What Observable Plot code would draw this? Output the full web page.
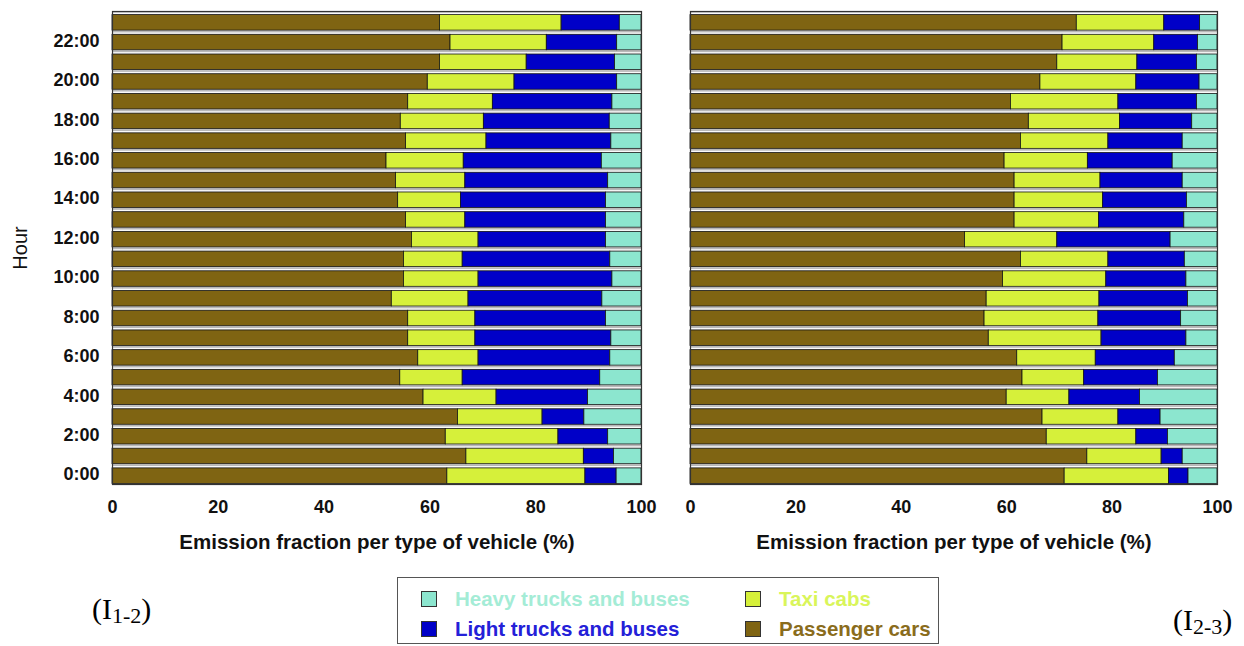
<!DOCTYPE html>
<html>
<head>
<meta charset="utf-8">
<script src="https://cdn.jsdelivr.net/npm/d3@7"></script>
<script src="https://cdn.jsdelivr.net/npm/@observablehq/plot@0.6"></script>
<style>
  html, body { margin: 0; padding: 0; background: #fff; }
  #root { position: relative; width: 1244px; height: 646px; overflow: hidden; font-family: "Liberation Sans", Arial, sans-serif; }
  .panel { position: absolute; top: 0; }
  #legend { position: absolute; left: 397px; top: 577px; width: 542px; height: 67px; border: 1px solid #555; box-sizing: border-box; }
  .item { position: absolute; display: flex; align-items: center; font-weight: bold; font-size: 20.5px; line-height: 24px; white-space: nowrap; }
  .sw { width: 16px; height: 16px; border: 1px solid #333; box-sizing: border-box; margin-right: 18px; }
  .tag { position: absolute; font-family: "Liberation Serif", "Times New Roman", serif; font-size: 30px; line-height: 34px; color: #000; }
  .tag sub { font-size: 22px; vertical-align: -4px; line-height: 0; }
</style>
</head>
<body>
<div id="root">
  <div id="left" class="panel" style="left:0px"></div>
  <div id="right" class="panel" style="left:640px"></div>
  <div id="legend"></div>
  <div class="tag" style="left:92px; top:592px">(I<sub>1-2</sub>)</div>
  <div class="tag" style="left:1173px; top:603px">(I<sub>2-3</sub>)</div>
</div>
<script>
// Hours of the day, 0:00 … 23:00
const hours = d3.range(24).map(h => `${h}:00`);
const hourTicks = hours.filter((_, i) => i % 2 === 0);
const xTicks = [0, 20, 40, 60, 80, 100];

// Vehicle types, in stacking order (left to right)
const vehicleTypes = ["Passenger cars", "Taxi cabs", "Light trucks and buses", "Heavy trucks and buses"];
const vehicleColors = ["#7f6412", "#d6f03a", "#0000c8", "#8ce6cf"];
const legendTextColors = ["#8a6c1c", "#d9f55a", "#2420d8", "#a4ecd6"];
// Legend layout order
const legendOrder = ["Heavy trucks and buses", "Taxi cabs", "Light trucks and buses", "Passenger cars"];

const xTitle = "Emission fraction per type of vehicle (%)";
const yTitle = "Hour";

// Emission fractions (%) per hour, period I1-2
const passengerA = [63.3, 66.9, 63.0, 65.3, 58.8, 54.4, 57.8, 55.9, 55.9, 52.8, 55.1, 55.1, 56.6, 55.5, 54.0, 53.6, 51.8, 55.5, 54.5, 55.9, 59.6, 61.9, 63.9, 61.9];
const taxiA      = [26.1, 22.2, 21.3, 16.0, 13.8, 11.8, 11.4, 12.7, 12.7, 14.5, 14.1, 11.1, 12.6, 11.2, 11.9, 13.1, 14.6, 15.2, 15.7, 16.0, 16.4, 16.4, 18.2, 23.0];
const lightA     = [5.9, 5.7, 9.4, 7.9, 17.3, 26.0, 24.9, 25.7, 24.7, 25.3, 25.3, 27.9, 24.1, 26.6, 27.4, 27.0, 26.1, 23.6, 23.8, 22.6, 19.4, 16.7, 13.3, 11.0];
const heavyA     = [4.7, 5.2, 6.3, 10.8, 10.1, 7.8, 5.9, 5.7, 6.7, 7.4, 5.5, 5.9, 6.7, 6.7, 6.7, 6.3, 7.5, 5.7, 6.0, 5.5, 4.6, 5.0, 4.6, 4.1];

// Emission fractions (%) per hour, period I2-3
const passengerB = [71.0, 75.3, 67.6, 66.8, 60.0, 63.0, 62.0, 56.6, 55.8, 56.2, 59.3, 62.7, 52.1, 61.5, 61.5, 61.5, 59.6, 62.7, 64.2, 60.8, 66.4, 69.6, 70.6, 73.3];
const taxiB      = [19.8, 14.1, 17.0, 14.4, 11.9, 11.7, 14.9, 21.4, 21.6, 21.4, 19.6, 16.6, 17.5, 16.0, 16.8, 16.3, 15.8, 16.6, 17.3, 20.4, 18.2, 15.2, 17.4, 16.6];
const lightB     = [3.7, 4.0, 6.0, 8.0, 13.4, 14.0, 15.0, 16.1, 15.7, 16.8, 15.2, 14.5, 21.5, 16.2, 15.9, 15.6, 16.1, 14.1, 13.7, 14.9, 12.0, 11.3, 8.3, 6.8];
const heavyB     = [5.5, 6.6, 9.4, 10.8, 14.7, 11.3, 8.1, 5.9, 6.9, 5.6, 5.9, 6.2, 8.9, 6.3, 5.8, 6.6, 8.5, 6.6, 4.8, 3.9, 3.4, 3.9, 3.7, 3.3];

function tidy(series) {
  const rows = [];
  hours.forEach((hour, i) => {
    vehicleTypes.forEach((type, k) => rows.push({hour, type, value: series[k][i]}));
  });
  return rows;
}

function panel({data, width, marginLeft, marginRight, showY}) {
  return Plot.plot({
    width,
    height: 560,
    marginTop: 11,
    marginBottom: 76,
    marginLeft,
    marginRight,
    style: {fontFamily: "Liberation Sans, Arial, sans-serif", fontSize: "18px", fontWeight: "bold", color: "#111", background: "transparent"},
    x: {domain: [0, 100], ticks: xTicks, tickSize: 0, tickPadding: 16, label: xTitle, labelAnchor: "center", labelOffset: 64, labelArrow: "none"},
    y: showY
      ? {domain: hours.slice().reverse(), ticks: hourTicks, tickSize: 0, tickPadding: 13, padding: 0, round: false, label: yTitle, labelAnchor: "center", labelOffset: 100, labelArrow: "none"}
      : {domain: hours.slice().reverse(), padding: 0, round: false, axis: null},
    color: {domain: vehicleTypes, range: vehicleColors},
    marks: [
      Plot.frame({fill: "#fafafa"}),
      // thin grey separator at the top of each hour row
      Plot.barX(hours, {x1: 0, x2: 100, y: d => d, fill: "#b8b8b8", insetBottom: 18}),
      Plot.barX(data, Plot.stackX({
        x: "value", y: "hour", fill: "type", order: vehicleTypes,
        insetTop: 3.6, insetBottom: 0.6,
        stroke: "#141414", strokeWidth: 0.8
      })),
      Plot.frame({stroke: "#333", strokeWidth: 1.2})
    ]
  });
}

const left = panel({
  data: tidy([passengerA, taxiA, lightA, heavyA]),
  width: 660, marginLeft: 112, marginRight: 19, showY: true
});
const right = panel({
  data: tidy([passengerB, taxiB, lightB, heavyB]),
  width: 604, marginLeft: 50, marginRight: 27, showY: false
});

// axis titles: larger; the y title in regular weight
for (const svg of [left, right]) {
  d3.select(svg).selectAll("[aria-label='x-axis label'] text").style("font-size", "20.5px");
}
d3.select(left).selectAll("[aria-label='y-axis label'] text").style("font-weight", "normal").style("font-size", "20px");

document.getElementById("left").appendChild(left);
document.getElementById("right").appendChild(right);

// Legend
const legend = document.getElementById("legend");
const positions = [[23, 9], [347, 9], [23, 39], [347, 39]];
legendOrder.forEach((name, i) => {
  const k = vehicleTypes.indexOf(name);
  const item = document.createElement("div");
  item.className = "item";
  item.style.left = positions[i][0] + "px";
  item.style.top = positions[i][1] + "px";
  const sw = document.createElement("div");
  sw.className = "sw";
  sw.style.background = vehicleColors[k];
  const label = document.createElement("span");
  label.textContent = name;
  label.style.color = legendTextColors[k];
  item.append(sw, label);
  legend.appendChild(item);
});
</script>
</body>
</html>
